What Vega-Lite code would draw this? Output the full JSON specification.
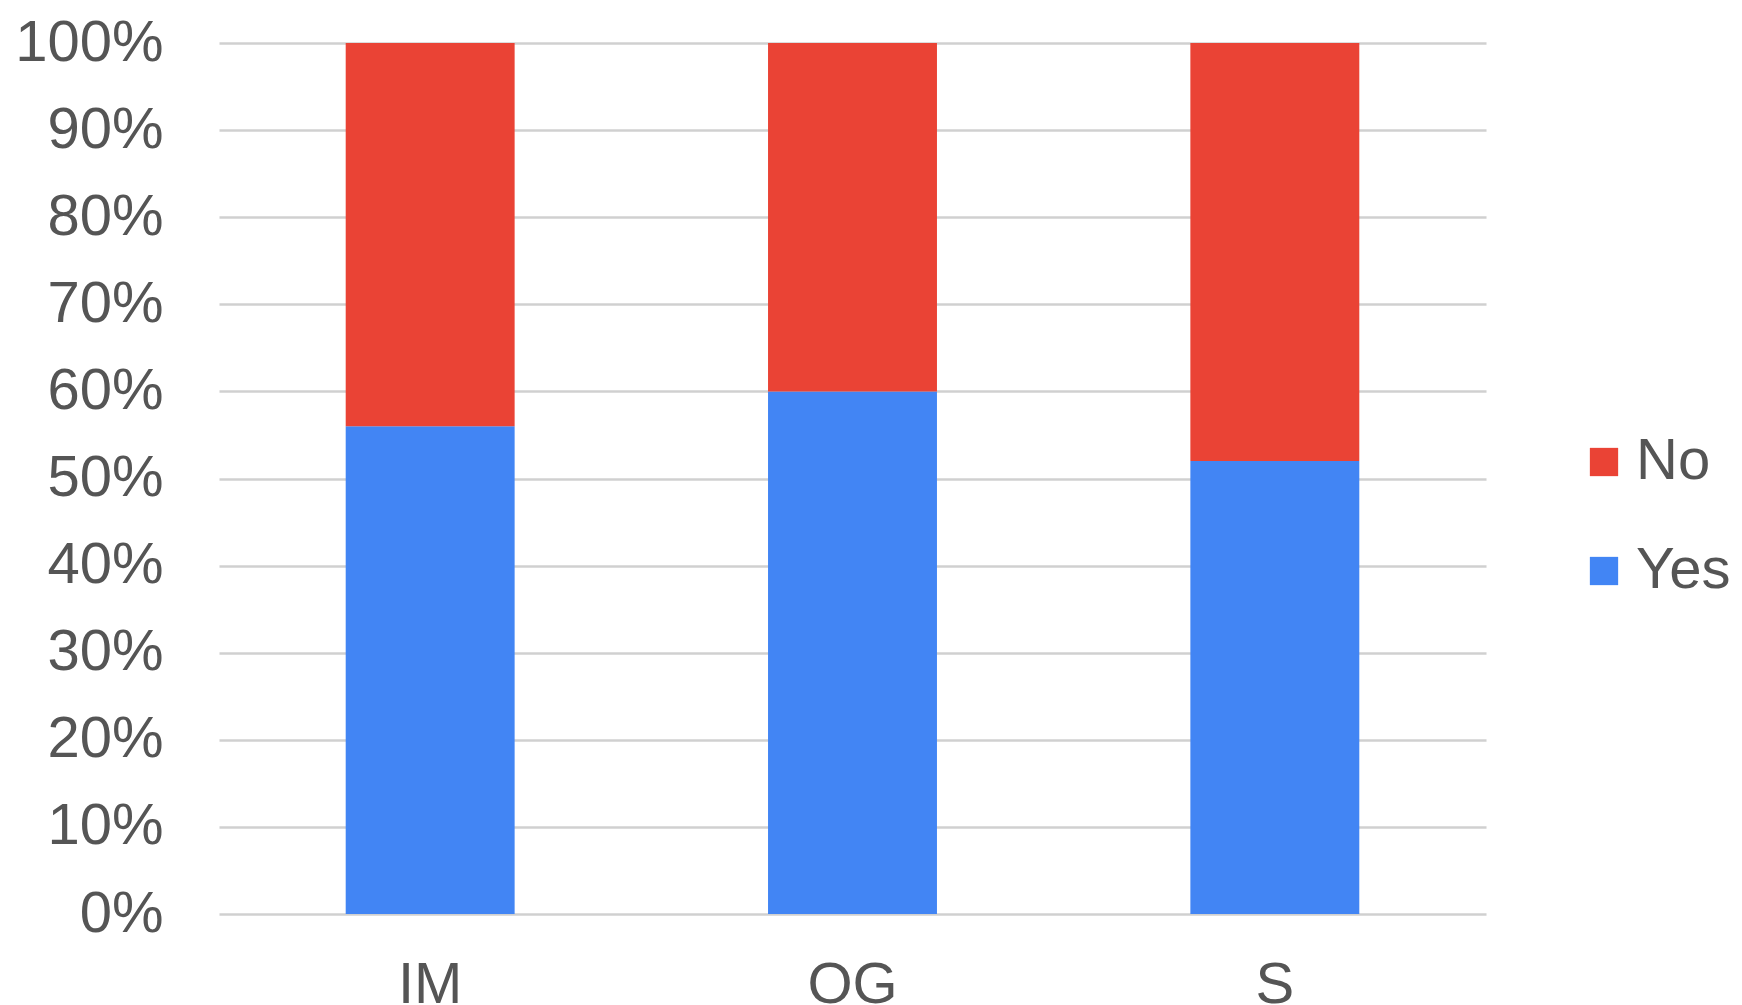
{
  "$schema": "https://vega.github.io/schema/vega-lite/v6.json",
  "width": 1267,
  "height": 871,
  "autosize": {"type": "none"},
  "padding": {"left": 219, "top": 43, "right": 256, "bottom": 91},
  "background": "white",
  "config": {
    "view": {"stroke": null},
    "font": "Liberation Sans"
  },
  "data": {
    "values": [
      {"Group": "IM", "Answer": "Yes", "Share": 0.56},
      {"Group": "IM", "Answer": "No", "Share": 0.44},
      {"Group": "OG", "Answer": "Yes", "Share": 0.60},
      {"Group": "OG", "Answer": "No", "Share": 0.40},
      {"Group": "S", "Answer": "Yes", "Share": 0.52},
      {"Group": "S", "Answer": "No", "Share": 0.48}
    ]
  },
  "mark": {"type": "bar"},
  "encoding": {
    "x": {
      "field": "Group",
      "type": "nominal",
      "sort": ["IM", "OG", "S"],
      "scale": {"paddingInner": 0.6, "paddingOuter": 0.3},
      "axis": {
        "title": null,
        "labelAngle": 0,
        "ticks": false,
        "domain": false,
        "labelPadding": 42,
        "labelFontSize": 58,
        "labelColor": "#555555",
        "labelFont": "Liberation Sans"
      }
    },
    "y": {
      "field": "Share",
      "type": "quantitative",
      "stack": "zero",
      "scale": {"domain": [0, 1], "nice": false},
      "axis": {
        "title": null,
        "format": "%",
        "values": [0, 0.1, 0.2, 0.3, 0.4, 0.5, 0.6, 0.7, 0.8, 0.9, 1],
        "ticks": false,
        "domain": false,
        "labelPadding": 56,
        "labelFontSize": 58,
        "labelColor": "#555555",
        "labelFont": "Liberation Sans",
        "gridColor": "#d0d0d0",
        "gridWidth": 2.5
      }
    },
    "color": {
      "field": "Answer",
      "type": "nominal",
      "scale": {"domain": ["No", "Yes"], "range": ["#EA4335", "#4285F4"]},
      "legend": {
        "title": null,
        "orient": "none",
        "legendX": 1356,
        "legendY": 390,
        "symbolType": "square",
        "symbolSize": 800,
        "symbolStrokeWidth": 0,
        "labelFontSize": 58,
        "labelColor": "#555555",
        "labelFont": "Liberation Sans",
        "labelOffset": 3,
        "rowPadding": 51,
        "labelLimit": 400
      }
    },
    "order": {"field": "Answer", "sort": "descending"}
  }
}
